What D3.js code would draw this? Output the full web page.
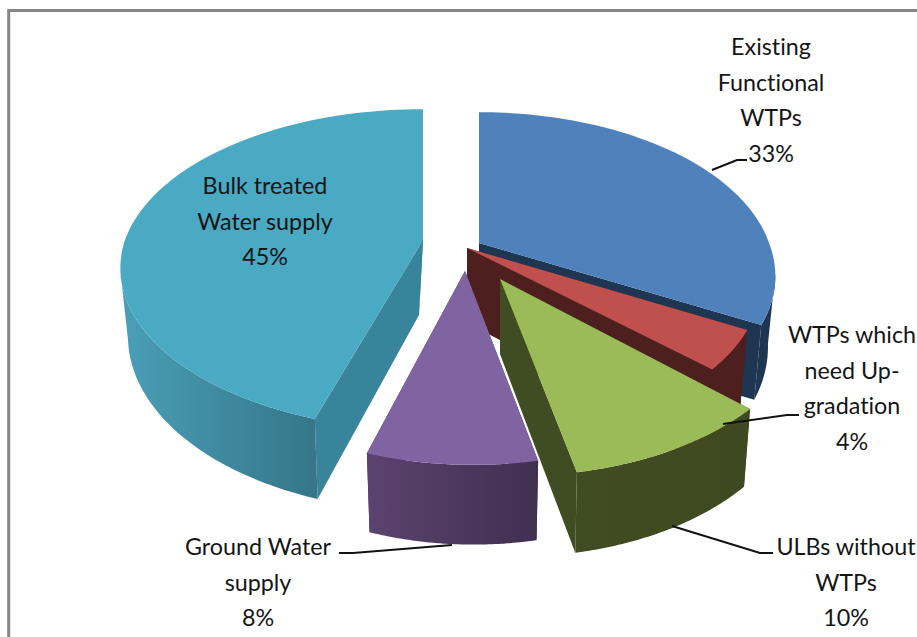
<!DOCTYPE html>
<html><head><meta charset="utf-8">
<style>html,body{margin:0;padding:0;background:#fff;overflow:hidden}svg{display:block}text{font-family:Lato,"Open Sans",sans-serif;font-size:23.3px;fill:#151515;text-anchor:middle;dominant-baseline:central;font-variant-ligatures:none}</style>
<script src="https://cdn.jsdelivr.net/npm/d3@7/dist/d3.min.js"></script>
</head><body>
<script>
const categories=["Existing Functional WTPs","WTPs which need Up-gradation","ULBs without WTPs","Ground Water supply","Bulk treated Water supply"];
const values=[33,4,10,8,45];
const labelLines=[["Existing","Functional","WTPs"],["WTPs which","need Up-","gradation"],["ULBs without","WTPs"],["Ground Water","supply"],["Bulk treated","Water supply"]];
const topColors=["#4f81bd","#c0504d","#9bbb59","#8064a2","#4aa9c3"];
const sideLeft=["#1f3652","#4d1f1f","#404c21","#5c4270","#4a9fb7"];
const sideRight=["#1f3652","#4d1f1f","#3f4921","#3f3050","#35768a"];
const cutColors=["#1f3652","#4d1f1f","#404c21","#4a3560","#38849b"];
// layout of each exploded slice
const apexX=[479,467,500,465,423], apexY=[243,248,279,271,240];
const radius=[290,288,307,283,298], flat=[155,155,176,158,155];
const persp=[0.185,0.185,0.1075,0.185,0.185], shear=[0.04,0.04,0.065,0.044,0.02];
const drop=[68,68,72,65,66], apexLean=[0,0,0,0,-4];
const labelPos=[[771,46],[852,334],[846,546],[258,546],[265,185]];
const leaders=[[[712,170],[737,160],[747,160]],[[723,424],[787,415],[799,415]],[[672,526],[760,553],[773,553]],[[452,545],[353,553],[339,553]],null];
const drawOrder=[0,1,3,2,4];
const apexDrop=75, inset=0.975;

const W=917,H=637;
const svg=d3.select("body").append("svg").attr("width",W).attr("height",H);
svg.append("path").attr("d",d3.line()([[8.7,637],[8.7,10.5],[917,10.5]])).attr("fill","none").attr("stroke","#868686").attr("stroke-width",3);
const defs=svg.append("defs");
const arcs=d3.pie().sort(null).value(d=>d)(values);

function project(i,a,level){
  const X=Math.sin(a),Y=-Math.cos(a),f=1/(1-persp[i]*Y);
  const sy=Y*flat[i]*f, sc=level?inset:1;
  return [apexX[i]+(X*radius[i]*f*sc)+shear[i]*Math.max(sy,0), apexY[i]+sy+(level?drop[i]*f:0)];
}
const line=d3.line();
drawOrder.forEach(i=>{
  const a=arcs[i], n=80;
  const ang=d3.range(n+1).map(k=>a.startAngle+(a.endAngle-a.startAngle)*k/n);
  const top=ang.map(t=>project(i,t,0)), bot=ang.map(t=>project(i,t,1));
  const ap=[apexX[i],apexY[i]], apb=[apexX[i]+apexLean[i],apexY[i]+apexDrop];
  const g=svg.append("g");
  [[top[0],bot[0]],[top[n],bot[n]]].forEach(([p,q])=>{
    g.append("path").attr("d",line([ap,p,q,apb])+"Z").attr("fill",cutColors[i]);
  });
  // rim wall from the silhouette point to the front
  const vis=d3.range(n+1).filter(k=>-Math.cos(ang[k])>persp[i]);
  if(vis.length>1){
    const xs=vis.map(k=>top[k][0]);
    const id="wall"+i;
    const gr=defs.append("linearGradient").attr("id",id).attr("gradientUnits","userSpaceOnUse")
      .attr("x1",d3.min(xs)).attr("x2",d3.max(xs)).attr("y1",0).attr("y2",0);
    gr.append("stop").attr("offset",0).attr("stop-color",sideLeft[i]);
    gr.append("stop").attr("offset",1).attr("stop-color",sideRight[i]);
    g.append("path").attr("d",line(vis.map(k=>top[k]).concat(vis.map(k=>bot[k]).reverse()))+"Z").attr("fill",`url(#${id})`);
  }
  g.append("path").attr("d",line([ap].concat(top))+"Z").attr("fill",topColors[i]);
});
leaders.forEach(l=>{ if(l) svg.append("path").attr("d",line(l)).attr("fill","none").attr("stroke","#111").attr("stroke-width",2); });
labelLines.forEach((ls,i)=>{
  ls.concat([values[i]+"%"]).forEach((t,j)=>{
    svg.append("text").attr("x",labelPos[i][0]).attr("y",labelPos[i][1]+j*35.6).text(t);
  });
});
</script>
</body></html>
